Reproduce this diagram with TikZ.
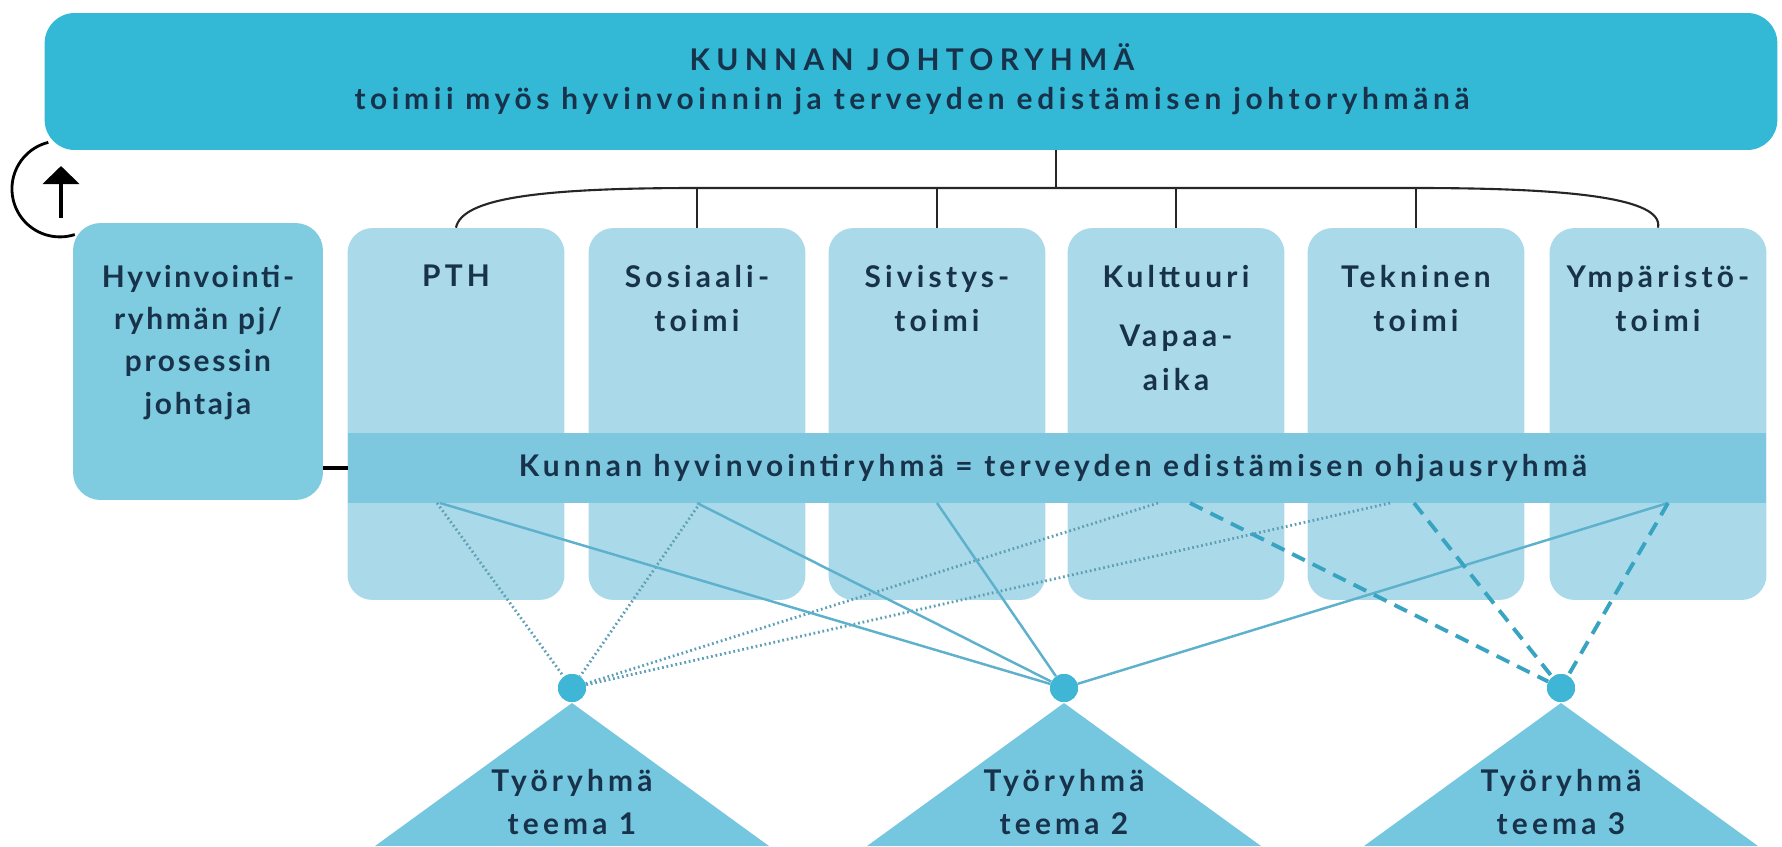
\documentclass[tikz,border=0pt]{standalone}
\usepackage{fontspec}
\setmainfont{Lato}
\newfontfamily\diafont[LetterSpace=14]{Lato}
\newfontfamily\pjfont[LetterSpace=9]{Lato}
\newfontfamily\jrfont[LetterSpace=15.5]{Lato}
\usetikzlibrary{arrows.meta}

\definecolor{johtoblue}{HTML}{33B9D6}
\definecolor{pjblue}{HTML}{7FCCE1}
\definecolor{toimiblue}{HTML}{AADAE9}
\definecolor{ohjblue}{HTML}{7DC8DE}
\definecolor{triblue}{HTML}{74C7DF}
\definecolor{dotblue}{HTML}{3FB6D6}
\definecolor{navy}{HTML}{17324A}
\definecolor{lineblue}{HTML}{5DB1CC}
\definecolor{dotgray}{HTML}{5F9FB6}
\definecolor{dashblue}{HTML}{38A4C2}

\begin{document}
\begin{tikzpicture}[x=0.02cm, y=-0.02cm,
    every node/.style={text=navy, inner sep=0pt},
    johto/.style={fill=johtoblue, rounded corners=0.6cm, minimum width=34.66cm, minimum height=2.74cm},
    pjbox/.style={fill=pjblue, rounded corners=0.55cm, minimum width=5cm, minimum height=5.54cm},
    toimi/.style={fill=toimiblue, rounded corners=0.5cm, minimum width=4.34cm, minimum height=7.44cm},
    ohj/.style={fill=ohjblue, minimum width=28.36cm, minimum height=1.4cm},
    teksti/.style={align=center, font=\diafont\bfseries\fontsize{17}{25}\selectfont},
    pjteksti/.style={align=center, font=\pjfont\bfseries\fontsize{17}{24}\selectfont},
    jrteksti/.style={align=center, font=\jrfont\bfseries\fontsize{17}{22.5}\selectfont},
    dot/.style={circle, fill=dotblue, minimum size=0.56cm},
    yhteys/.style={line width=1.4pt, lineblue},
    pisteet/.style={line width=1.6pt, dotgray, dash pattern=on 1pt off 1.6pt},
    katko/.style={line width=2.2pt, dashblue, dash pattern=on 8pt off 5pt},
    haara/.style={line width=1.2pt, black!85}]
    \useasboundingbox (0,0) rectangle (1782,846);

    % kunnan johtoryhmä
    \node[johto] (jr) at (911,81.5) {};
    \node[jrteksti] (jrT) at (912,79) {{\addfontfeature{LetterSpace=21}KUNNAN JOHTORYHMÄ}\\toimii myös hyvinvoinnin ja terveyden edistämisen johtoryhmänä};

    % toimialat
    \node[toimi] (pth) at (456,414) {};
    \node[toimi] (sos) at (697,414) {};
    \node[toimi] (siv) at (937,414) {};
    \node[toimi] (kul) at (1176,414) {};
    \node[toimi] (tek) at (1416,414) {};
    \node[toimi] (ymp) at (1658,414) {};
    \node[teksti, anchor=north] (pthT) at (456,265) {PTH};
    \node[teksti, anchor=north] (sosT) at (697,265) {Sosiaali-\\toimi};
    \node[teksti, anchor=north] (sivT) at (937,265) {Sivistys-\\toimi};
    \node[teksti, anchor=north] (kulT) at (1176,265) {Kulttuuri\\[0.3cm]Vapaa-\\aika};
    \node[teksti, anchor=north] (tekT) at (1416,265) {Tekninen\\toimi};
    \node[teksti, anchor=north] (ympT) at (1658,265) {Ympäristö-\\toimi};

    \node[ohj] (ohj) at (1057,468) {};
    \node[teksti] (ohjT) at (1053,468) {Kunnan hyvinvointiryhmä = terveyden edistämisen ohjausryhmä};

    \node[pjbox] (pj) at (198,361.5) {};
    \node[pjteksti, anchor=north] (pjT) at (198,265) {Hyvinvointi-\\ryhmän pj/\\prosessin\\johtaja};
    \draw[line width=2.8pt, black] (pj.east |- ohj.west) -- (ohj.west);

    % paluunuoli
    \draw[line width=1.6pt] ([shift={(4,-8)}]jr.south west) arc[start angle=104, end angle=288, radius=0.96cm];
    \draw[line width=2.4pt, -{Triangle[width=0.72cm, length=0.36cm]}] (61,218) -- (61,166);

    % haarat
    \coordinate (brk) at (1056,188);
    \draw[haara] (brk |- jr.south) -- (brk);
    \draw[haara] (pth.north) .. controls (462,198) and (540,188) .. (sos.north |- brk)
        -- (tek.north |- brk) .. controls (1570,188) and (1664,198) .. (ymp.north);
    \foreach \t in {sos, siv, kul, tek}
        \draw[haara] (\t.north |- brk) -- (\t.north);

    % työryhmät
    \node[dot] (d1) at (572,688) {};
    \node[dot] (d2) at (1064,688) {};
    \node[dot] (d3) at (1561,688) {};
    \foreach \d in {d1, d2, d3}
        \fill[triblue] ([yshift=-0.3cm]\d.center) -- ([xshift=-3.94cm]\d.center |- 0,846) -- ([xshift=3.94cm]\d.center |- 0,846) -- cycle;

    \coordinate (a1) at (437,503);
    \coordinate (a2) at (700,503);
    \coordinate (a3) at (1158,503);
    \coordinate (a4) at (1390,503);
    \coordinate (b1) at (440,503);
    \coordinate (b2) at (697,503);
    \coordinate (b3) at (937,503);
    \coordinate (b4) at (1668,503);
    \coordinate (c1) at (1190,503);
    \coordinate (c2) at (1414,503);
    \coordinate (c3) at (1668,503);
    \foreach \p in {a1, a2, a3, a4}
        \draw[pisteet] (\p) -- (d1);
    \foreach \p in {b1, b2, b3, b4}
        \draw[yhteys] (\p) -- (d2);
    \foreach \p in {c1, c2, c3}
        \draw[katko] (\p) -- (d3);
    \foreach \d in {d1, d2, d3}
        \fill[dotblue] (\d) circle (0.28cm);

    \node[teksti] (t1) at (572,802) {Työryhmä\\teema 1};
    \node[teksti] (t2) at (1064,802) {Työryhmä\\teema 2};
    \node[teksti] (t3) at (1561,802) {Työryhmä\\teema 3};
\end{tikzpicture}
\end{document}
